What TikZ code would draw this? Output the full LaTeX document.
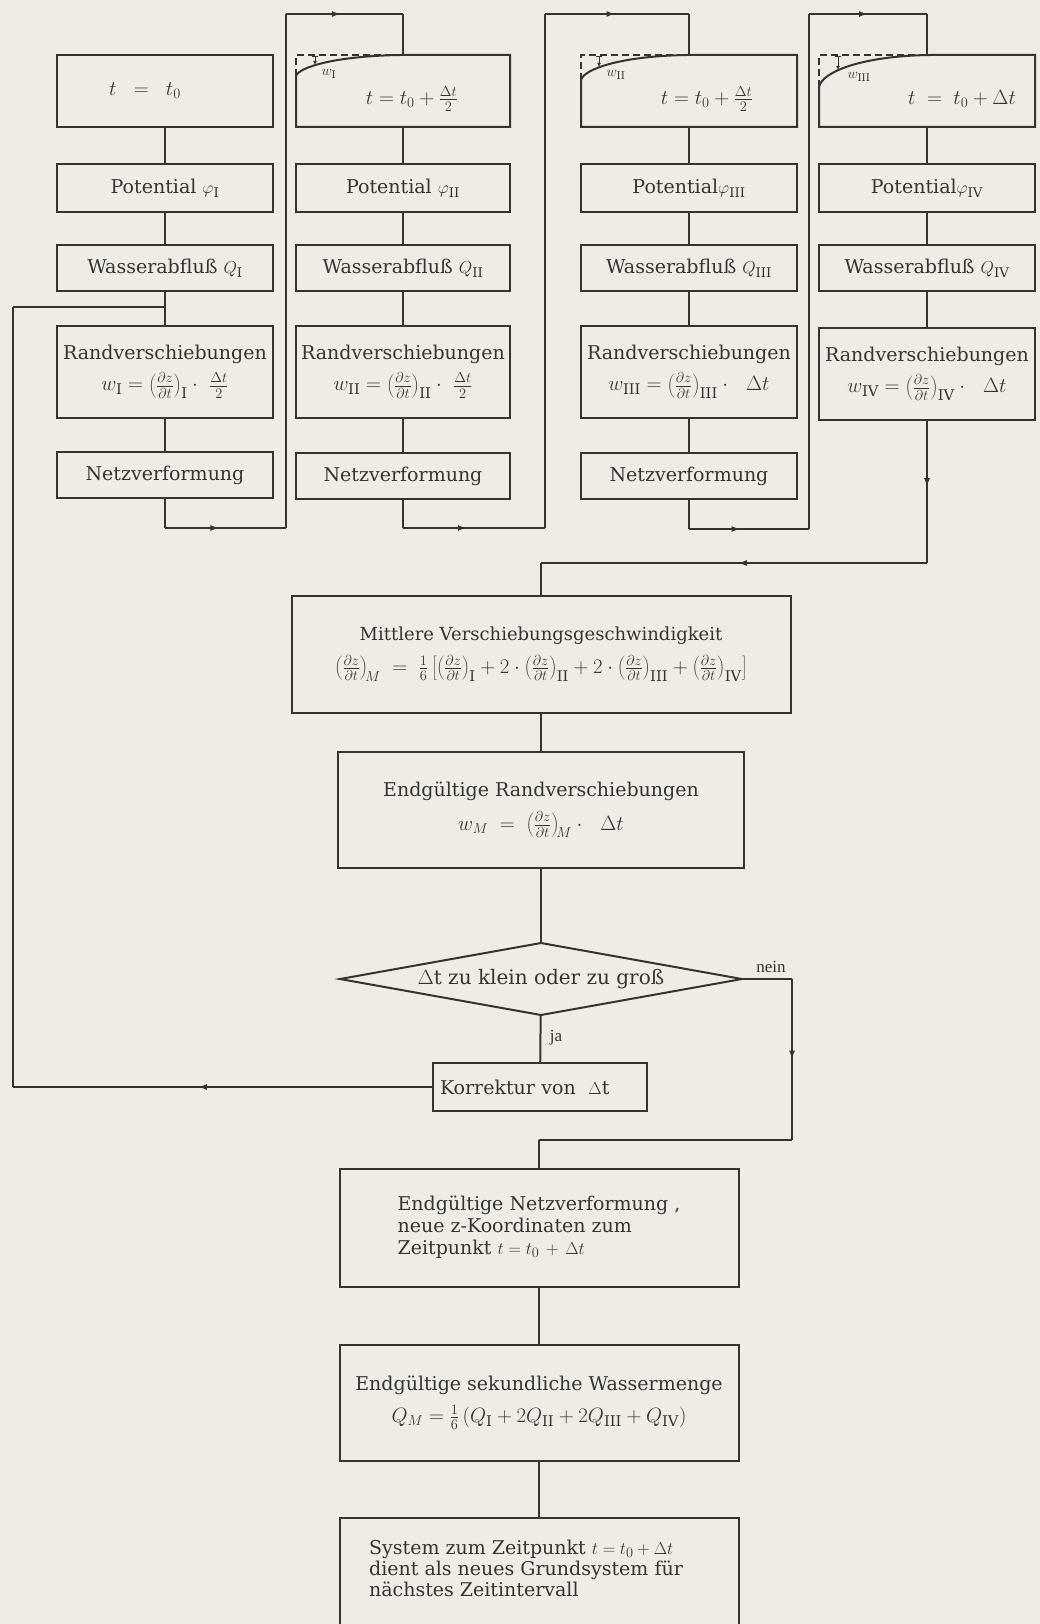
\documentclass[tikz,border=0pt]{standalone}
\usepackage{fontspec}
\setmainfont{DejaVu Serif}
\newfontfamily\narrowfont{Liberation Serif}
\usetikzlibrary{arrows.meta}
\usetikzlibrary{shapes.geometric}
\usetikzlibrary{decorations.markings}
\usetikzlibrary{calc}

\definecolor{paper}{RGB}{238,236,229}
\definecolor{ink}{RGB}{52,52,50}

\newcommand{\dzdt}{\left(\frac{\partial z}{\partial t}\right)}
\newcommand{\fml}{\fontsize{21}{24}\selectfont}

\tikzset{
  box/.style={draw=ink, line width=2pt, inner sep=0pt, outer sep=0pt, text=ink, align=center, font=\fontsize{19}{22}\selectfont},
  hole/.style={inner sep=0pt, outer sep=0pt},
  conn/.style={draw=ink, line width=2pt},
  lbl/.style={text=ink, inner sep=0pt, align=left, font=\fontsize{19}{21}\selectfont},
  smalllbl/.style={text=ink, inner sep=0pt, font=\fontsize{15}{17}\selectfont},
  narrowlbl/.style={text=ink, inner sep=0pt, font=\narrowfont\fontsize{17}{20}\selectfont},
  midarrow/.style={postaction={decorate}, decoration={markings, mark=at position #1 with {\arrow{Latex[length=9pt,width=6pt]}}}},
  midarrow/.default=0.5,
  decision/.style={shape=diamond, draw=ink, line width=2pt, inner sep=0pt, outer sep=0pt, minimum width=402pt, minimum height=72pt},
  oldedge/.style={draw=ink, line width=1.3pt, dash pattern=on 7pt off 4pt},
  wmark/.style={draw=ink, line width=1pt, {Bar[width=6pt]}-{Latex[length=4pt,width=4pt]}},
}

\begin{document}
\begin{tikzpicture}[x=1pt,y=-1pt]
\useasboundingbox (0,0) rectangle (1040,1624);
\fill[paper] (0,0) rectangle (1040,1624);
\clip (0,0) rectangle (1040,1624);

% time step boxes
\node[box, minimum width=216pt, minimum height=72pt] (t1) at (165,91) {{\fml $t \;\;=\;\; t_0$}\hspace*{40pt}};
\node[hole, minimum width=214pt, minimum height=72pt] (t2) at (403,91) {};
\node[hole, minimum width=216pt, minimum height=72pt] (t3) at (689,91) {};
\node[hole, minimum width=216pt, minimum height=72pt] (t4) at (927,91) {};
\node[lbl, font=\fml] (t2txt) at (412,99) {$t = t_0 + \frac{\Delta t}{2}$};
\node[lbl, font=\fml] (t3txt) at (707,99) {$t = t_0 + \frac{\Delta t}{2}$};
\node[lbl, font=\fml] (t4txt) at (962,99) {$t \;=\; t_0 + \Delta t$};

% deformed boundary, box II
\draw[conn] ($(t2.north west)+(0,21)$) -- (t2.south west) -- (t2.south east) -- (t2.north east) -- ($(t2.north west)+(104,0)$) .. controls ($(t2.north west)+(40,1)$) and ($(t2.north west)+(3,12)$) .. ($(t2.north west)+(0,21)$);
\draw[oldedge] ($(t2.north west)+(0,21)$) -- (t2.north west) -- ($(t2.north west)+(104,0)$);
\draw[wmark] ($(t2.north west)+(19,1)$) -- ($(t2.north west)+(19,10)$);
\node[smalllbl] (w1) at ($(t2.north west)+(33,19)$) {$w_{\mathrm I}$};

% deformed boundary, box III
\draw[conn] ($(t3.north west)+(0,25)$) -- (t3.south west) -- (t3.south east) -- (t3.north east) -- ($(t3.north west)+(106,0)$) .. controls ($(t3.north west)+(40,1)$) and ($(t3.north west)+(3,14)$) .. ($(t3.north west)+(0,25)$);
\draw[oldedge] ($(t3.north west)+(0,25)$) -- (t3.north west) -- ($(t3.north west)+(106,0)$);
\draw[wmark] ($(t3.north west)+(18,1)$) -- ($(t3.north west)+(18,12)$);
\node[smalllbl] (w2) at ($(t3.north west)+(35,20)$) {$w_{\mathrm{II}}$};

% deformed boundary, box IV
\draw[conn] ($(t4.north west)+(0,32)$) -- (t4.south west) -- (t4.south east) -- (t4.north east) -- ($(t4.north west)+(111,0)$) .. controls ($(t4.north west)+(42,1)$) and ($(t4.north west)+(3,17)$) .. ($(t4.north west)+(0,32)$);
\draw[oldedge] ($(t4.north west)+(0,32)$) -- (t4.north west) -- ($(t4.north west)+(111,0)$);
\draw[wmark] ($(t4.north west)+(19,1)$) -- ($(t4.north west)+(19,15)$);
\node[smalllbl] (w3) at ($(t4.north west)+(40,22)$) {$w_{\mathrm{III}}$};

% potential
\node[box, minimum width=216pt, minimum height=48pt] (p1) at (165,188) {Potential $\varphi_{\mathrm I}$};
\node[box, minimum width=214pt, minimum height=48pt] (p2) at (403,188) {Potential $\varphi_{\mathrm{II}}$};
\node[box, minimum width=216pt, minimum height=48pt] (p3) at (689,188) {Potential$\varphi_{\mathrm{III}}$};
\node[box, minimum width=216pt, minimum height=48pt] (p4) at (927,188) {Potential$\varphi_{\mathrm{IV}}$};

% water discharge
\node[box, minimum width=216pt, minimum height=46pt] (q1) at (165,268) {Wasserabfluß $Q_{\mathrm I}$};
\node[box, minimum width=214pt, minimum height=46pt] (q2) at (403,268) {Wasserabfluß $Q_{\mathrm{II}}$};
\node[box, minimum width=216pt, minimum height=46pt] (q3) at (689,268) {Wasserabfluß $Q_{\mathrm{III}}$};
\node[box, minimum width=216pt, minimum height=46pt] (q4) at (927,268) {Wasserabfluß $Q_{\mathrm{IV}}$};

% boundary displacements
\node[box, minimum width=216pt, minimum height=92pt] (r1) at (165,372) {Randverschiebungen\\[8pt]{\fml $w_{\mathrm I} = \dzdt_{\mathrm I} \cdot\ \frac{\Delta t}{2}$}};
\node[box, minimum width=214pt, minimum height=92pt] (r2) at (403,372) {Randverschiebungen\\[8pt]{\fml $w_{\mathrm{II}} = \dzdt_{\mathrm{II}} \cdot\ \frac{\Delta t}{2}$}};
\node[box, minimum width=216pt, minimum height=92pt] (r3) at (689,372) {Randverschiebungen\\[8pt]{\fml $w_{\mathrm{III}} = \dzdt_{\mathrm{III}} \cdot\ \ \Delta t$}};
\node[box, minimum width=216pt, minimum height=92pt] (r4) at (927,374) {Randverschiebungen\\[8pt]{\fml $w_{\mathrm{IV}} = \dzdt_{\mathrm{IV}} \cdot\ \ \Delta t$}};

% mesh deformation
\node[box, minimum width=216pt, minimum height=46pt] (n1) at (165,475) {Netzverformung};
\node[box, minimum width=214pt, minimum height=46pt] (n2) at (403,476) {Netzverformung};
\node[box, minimum width=216pt, minimum height=46pt] (n3) at (689,476) {Netzverformung};

% lower chain
\node[box, minimum width=499pt, minimum height=117pt] (mit) at (541,654) {{\fontsize{18}{21}\selectfont Mittlere Verschiebungsgeschwindigkeit}\\[10pt]{\fml $\dzdt_{\!M} \;=\; \frac{1}{6}\left[\dzdt_{\mathrm I} + 2\cdot\dzdt_{\mathrm{II}} + 2\cdot\dzdt_{\mathrm{III}} + \dzdt_{\mathrm{IV}}\right]$}};
\node[box, minimum width=406pt, minimum height=116pt] (endr) at (541,810) {Endgültige Randverschiebungen\\[10pt]{\fml $w_M \;=\; \dzdt_{\!M} \cdot\ \ \Delta t$}};
\node[decision] (dia) at (541,979) {};
\node[lbl, font=\fontsize{20}{23}\selectfont] (diatxt) at (dia.center) {$\Delta$t zu klein oder zu groß};
\node[box, minimum width=214pt, minimum height=48pt, text width=200pt, align=left] (kor) at (540,1087) {Korrektur von\ \ $\Delta$t};
\node[box, minimum width=399pt, minimum height=118pt] (endn) at (539,1228) {\begin{tabular}{@{}l@{}}Endgültige Netzverformung ,\\neue z-Koordinaten zum\\Zeitpunkt $t = t_0 \,+\, \Delta t$\end{tabular}};
\node[box, minimum width=399pt, minimum height=116pt] (endw) at (539,1403) {Endgültige sekundliche Wassermenge\\[10pt]{\fml $Q_M = \frac{1}{6}\,(Q_{\mathrm I} + 2Q_{\mathrm{II}} + 2Q_{\mathrm{III}} + Q_{\mathrm{IV}})$}};
\node[box, minimum width=399pt, minimum height=130pt] (sys) at (539,1583) {};
\node[lbl] (systxt) at (526,1568) {System zum Zeitpunkt $t = t_0 + \Delta t$\\dient als neues Grundsystem für\\nächstes Zeitintervall};

\node[narrowlbl] (nein) at (771,967) {nein};
\node[narrowlbl] (ja) at (556,1038) {ja};

% corner points of the routes
\coordinate (b1) at (165,528);
\coordinate (u2b) at (286,528);
\coordinate (u2t) at (286,14);
\coordinate (b2) at (403,528);
\coordinate (u3b) at (545,528);
\coordinate (u3t) at (545,14);
\coordinate (b3) at (689,529);
\coordinate (u4b) at (809,529);
\coordinate (u4t) at (809,14);
\coordinate (b4) at (927,563);
\coordinate (rt) at (792,1140);
\coordinate (lf) at (13,307);
\coordinate (fbt) at (165,307);

% column I
\draw[conn] (t1) -- (p1);
\draw[conn] (p1) -- (q1);
\draw[conn] (q1) -- (r1);
\draw[conn] (r1) -- (n1);
\draw[conn] (n1) -- (b1);
\draw[conn, midarrow=0.45] (b1) -- (u2b);
\draw[conn] (u2b) -- (u2t);
\draw[conn, midarrow=0.47] (u2t) -- (u2t -| t2.north);
\draw[conn] (u2t -| t2.north) -- (t2.north);

% column II
\draw[conn] (t2) -- (p2);
\draw[conn] (p2) -- (q2);
\draw[conn] (q2) -- (r2);
\draw[conn] (r2) -- (n2);
\draw[conn] (n2) -- (b2);
\draw[conn, midarrow=0.45] (b2) -- (u3b);
\draw[conn] (u3b) -- (u3t);
\draw[conn, midarrow=0.49] (u3t) -- (u3t -| t3.north);
\draw[conn] (u3t -| t3.north) -- (t3.north);

% column III
\draw[conn] (t3) -- (p3);
\draw[conn] (p3) -- (q3);
\draw[conn] (q3) -- (r3);
\draw[conn] (r3) -- (n3);
\draw[conn] (n3) -- (b3);
\draw[conn, midarrow=0.43] (b3) -- (u4b);
\draw[conn] (u4b) -- (u4t);
\draw[conn, midarrow=0.5] (u4t) -- (u4t -| t4.north);
\draw[conn] (u4t -| t4.north) -- (t4.north);

% column IV
\draw[conn] (t4) -- (p4);
\draw[conn] (p4) -- (q4);
\draw[conn] (q4) -- (r4);
\draw[conn, midarrow=0.47] (r4) -- (b4);
\draw[conn, midarrow=0.49] (b4) -- (b4 -| mit.north);
\draw[conn] (b4 -| mit.north) -- (mit.north);

% lower chain
\draw[conn] (mit) -- (endr);
\draw[conn] (endr) -- (dia);
\draw[conn] (dia) -- (kor);
\draw[conn] (dia.east) -- (dia.east -| rt);
\draw[conn, midarrow=0.5] (dia.east -| rt) -- (rt);
\draw[conn] (rt) -- (rt -| endn.north);
\draw[conn] (rt -| endn.north) -- (endn.north);
\draw[conn, midarrow=0.56] (kor.west) -- (kor.west -| lf);
\draw[conn] (kor.west -| lf) -- (lf);
\draw[conn] (lf) -- (fbt);
\draw[conn] (endn) -- (endw);
\draw[conn] (endw) -- (sys);

\end{tikzpicture}
\end{document}
